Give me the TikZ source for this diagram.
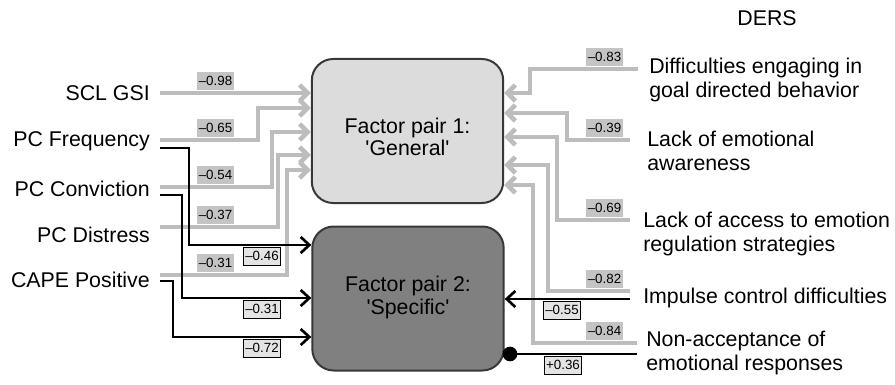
\documentclass[tikz,border=0pt]{standalone}
\usepackage{fontspec}
\setmainfont{Liberation Sans}
\usetikzlibrary{arrows.meta}

\definecolor{linegray}{HTML}{BDBDBD}
\definecolor{labgray}{HTML}{C4C4C4}
\definecolor{lightbox}{HTML}{DCDCDC}
\definecolor{darkbox}{HTML}{808080}
\definecolor{boxedge}{HTML}{383838}
\definecolor{tagfill}{HTML}{E4E4E4}

\begin{document}
\begin{tikzpicture}[x=0.75pt,y=-0.75pt,
  txt/.style={font=\fontsize{16}{18.5}\selectfont, inner sep=0pt},
  leftvar/.style={txt, anchor=east},
  dersvar/.style={txt, anchor=west, align=left},
  factor/.style={draw=boxedge, line width=1.5pt, rounded corners=16pt,
    minimum width=143.5pt, minimum height=108pt},
  factortext/.style={align=center, font=\fontsize{16}{16.5}\selectfont},
  graytag/.style={fill=labgray, inner xsep=1.2pt, inner ysep=0pt,
    minimum height=13.5pt, font=\fontsize{10}{10}\selectfont},
  blacktag/.style={draw=black, line width=1pt, fill=tagfill, inner xsep=1.2pt,
    inner ysep=0pt, minimum height=13.5pt, font=\fontsize{10}{10}\selectfont},
  gline/.style={draw=linegray, line width=3.4pt,
    -{Straight Barb[length=6pt,width=12pt]}},
  bline/.style={draw=black, line width=2pt,
    -{Straight Barb[length=6.5pt,width=12pt]}},
  bplain/.style={draw=black, line width=2pt}]

\useasboundingbox (0,0) rectangle (895,385);

% the two factors
\node[factor, fill=lightbox] (f1) at (407.5,131) {};
\node[factortext] (f1text) at (407.5,137)
  {Factor pair 1:\\\textquotesingle General\textquotesingle};
\node[factor, fill=darkbox] (f2) at (408,298.5) {};
\node[factortext] (f2text) at (408,297.5)
  {Factor pair 2:\\[1pt]\textquotesingle Specific\textquotesingle};

% predictor measures (left)
\node[leftvar] (scl)  at (150,93)  {SCL GSI};
\node[leftvar] (freq) at (150,141) {PC Frequency};
\node[leftvar] (conv) at (150,189) {PC Conviction};
\node[leftvar] (dist) at (150,235) {PC Distress};
\node[leftvar] (cape) at (150,280) {CAPE Positive};

% DERS subscales (right)
\node[txt] (ders) at (767,18) {DERS};
\node[dersvar] (goal) at (649,80)  {Difficulties engaging in\\goal directed behavior};
\node[dersvar] (aware) at (647,151) {Lack of emotional\\awareness};
\node[dersvar] (access) at (643,234) {Lack of access to emotion\\regulation strategies};
\node[dersvar] (impulse) at (643,298) {Impulse control difficulties};
\node[dersvar] (nonacc) at (646,353) {Non-acceptance of\\emotional responses};

% line end points next to the texts
\coordinate (sclG)  at (160,93);
\coordinate (freqG) at (160,140);
\coordinate (convG) at (160,187);
\coordinate (distG) at (160,227);
\coordinate (capeG) at (160,275);
\coordinate (freqB) at (160,148);
\coordinate (convB) at (160,195);
\coordinate (capeB) at (160,281);

\coordinate (goalG)    at (638,69);
\coordinate (awareG)   at (630,140);
\coordinate (accessG)  at (630,220);
\coordinate (impulseG) at (630,291);
\coordinate (nonaccG)  at (637,343);
\coordinate (impulseB) at (630,299);
\coordinate (nonaccB)  at (637,354);

% gray loadings into factor 1
\draw[gline] (sclG) -- (f1.west |- sclG);
\draw[gline] (freqG) -| (258,108) -- (f1.west |- 0,108);
\draw[gline] (convG) -| (272,132) -- (f1.west |- 0,132);
\draw[gline] (distG) -| (278,155) -- (f1.west |- 0,155);
\draw[gline] (capeG) -| (287,170) -- (f1.west |- 0,170);

\draw[gline] (goalG) -| (530,93) -- (f1.east |- 0,93);
\draw[gline] (awareG) -| (567,113) -- (f1.east |- 0,113);
\draw[gline] (accessG) -| (557,137) -- (f1.east |- 0,137);
\draw[gline] (impulseG) -| (548,165) -- (f1.east |- 0,165);
\draw[gline] (nonaccG) -| (533,185) -- (f1.east |- 0,185);

% black loadings into factor 2
\draw[bline] (freqB) -| (189,245) -- (f2.west |- 0,245);
\draw[bline] (convB) -| (182,298) -- (f2.west |- 0,298);
\draw[bline] (capeB) -| (173,337) -- (f2.west |- 0,337);
\draw[bline] (impulseB) -- (f2.east |- impulseB);
\node[circle, fill=black, inner sep=0pt, minimum size=11pt] (dot) at (510,354) {};
\draw[bplain] (nonaccB) -- (dot.center);

% gray loading values
\node[graytag, anchor=south] at (215.5,90.5)  {\textendash0.98};
\node[graytag, anchor=south] at (215.5,137.5) {\textendash0.65};
\node[graytag, anchor=south] at (215.5,184.5) {\textendash0.54};
\node[graytag, anchor=south] at (215.5,224.5) {\textendash0.37};
\node[graytag, anchor=south] at (215.5,272.5) {\textendash0.31};

\node[graytag, anchor=south] at (604.5,66.5)  {\textendash0.83};
\node[graytag, anchor=south] at (604.5,137.5) {\textendash0.39};
\node[graytag, anchor=south] at (604.5,217.5) {\textendash0.69};
\node[graytag, anchor=south] at (604.5,288.5) {\textendash0.82};
\node[graytag, anchor=south] at (604.5,340.5) {\textendash0.84};

% black loading values
\node[blacktag, anchor=north] at (262,246.5) {\textendash0.46};
\node[blacktag, anchor=north] at (262,299.5) {\textendash0.31};
\node[blacktag, anchor=north] at (262,338.5) {\textendash0.72};
\node[blacktag, anchor=north] at (562,300.5) {\textendash0.55};
\node[blacktag, anchor=north] at (563,355.5) {+0.36};

\end{tikzpicture}
\end{document}
